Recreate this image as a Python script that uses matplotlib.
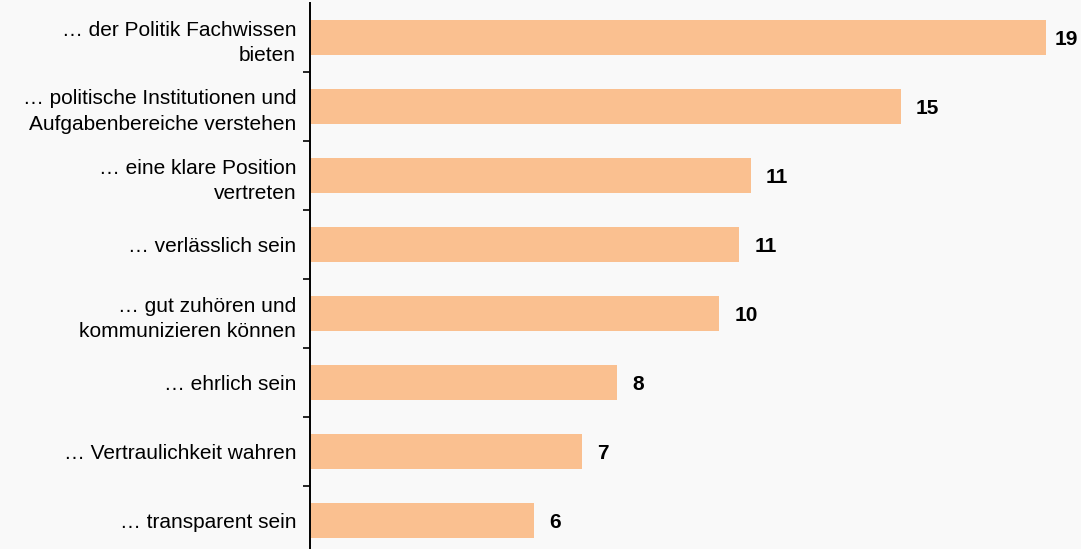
import matplotlib.pyplot as plt

plt.rcParams['font.family'] = ['Liberation Sans', 'DejaVu Sans']

# categories from top to bottom
labels = [
    "… der Politik Fachwissen\nbieten",
    "… politische Institutionen und\nAufgabenbereiche verstehen",
    "… eine klare Position\nvertreten",
    "… verlässlich sein",
    "… gut zuhören und\nkommunizieren können",
    "… ehrlich sein",
    "… Vertraulichkeit wahren",
    "… transparent sein",
]
values = [18.7, 15.0, 11.2, 10.9, 10.4, 7.8, 6.9, 5.7]
value_labels = ["19", "15", "11", "11", "10", "8", "7", "6"]


def main():
    bg = "#f9f9f9"
    fig = plt.figure(figsize=(10.81, 5.49), dpi=100, facecolor=bg)
    ax = fig.add_axes([310 / 1081, -6 / 549, 1 - 310 / 1081, 552 / 549])
    ax.set_facecolor(bg)

    pos = list(range(len(values)))
    ax.barh(pos, values, height=0.5, color="#fac090")

    xmax = (1081 - 309.5) / 39.4
    for y, v, t in zip(pos, values, value_labels):
        # keep the longest label inside the figure
        x = min(v + 0.38, xmax - 0.66)
        ax.text(x, y, t, va="center_baseline", ha="left",
                fontsize=15, fontweight="bold", color="black")

    ax.set_ylim(len(values) - 0.5, -0.5)
    ax.set_xlim(0, xmax)

    ax.set_yticks(pos)
    ax.set_yticklabels(labels, fontsize=15, linespacing=1.45)
    ax.set_yticks([p + 0.5 for p in pos[:-1]], minor=True)
    ax.tick_params(axis="y", which="major", length=0, pad=10)
    ax.tick_params(axis="y", which="minor", length=5, width=1.2, direction="out")
    ax.set_xticks([])

    for side in ["top", "right", "bottom"]:
        ax.spines[side].set_visible(False)
    ax.spines["left"].set_linewidth(1.4)

    plt.savefig("out.png", dpi=100, facecolor=bg)


if __name__ == '__main__':
    main()
